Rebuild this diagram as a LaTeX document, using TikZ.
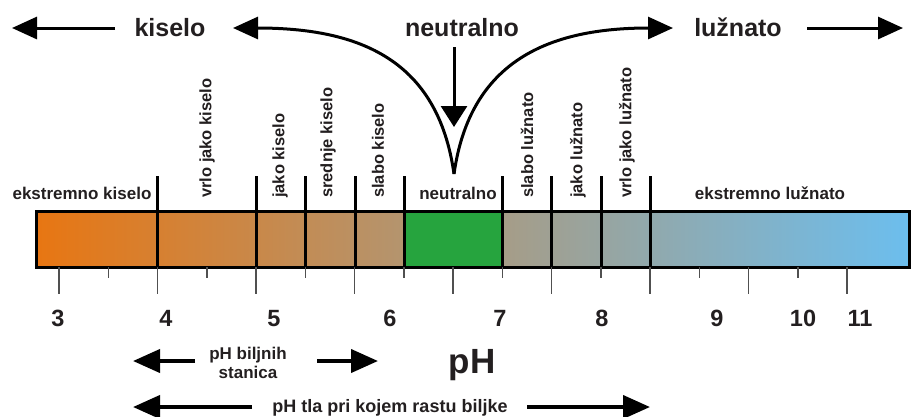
\documentclass[tikz,border=0pt]{standalone}
\usepackage{fontspec}
\setmainfont{Liberation Sans}
\usetikzlibrary{arrows.meta}
\definecolor{ink}{RGB}{35,31,32}
\definecolor{acid}{RGB}{232,118,18}
\definecolor{alk}{RGB}{108,190,238}
\definecolor{neut}{RGB}{38,164,62}
\definecolor{tickc}{RGB}{80,80,80}
\begin{document}
\begin{tikzpicture}[x=1pt,y=-1pt,
  big/.style={font=\fontsize{25}{30}\selectfont\bfseries, text=ink, inner sep=0pt, anchor=base},
  lab/.style={font=\fontsize{17}{20}\selectfont\bfseries, text=ink, inner sep=0pt, anchor=base},
  vlab/.style={font=\fontsize{16.5}{19}\selectfont\bfseries, text=ink, inner sep=0pt, rotate=90, anchor=west},
  num/.style={font=\fontsize{23.5}{27}\selectfont\bfseries, text=ink, inner sep=0pt, anchor=base},
  small/.style={font=\fontsize{17}{19.5}\selectfont\bfseries, text=ink, inner sep=0pt, align=center},
  toparrow/.style={line width=3pt, -{Triangle[length=25pt,width=22pt]}},
  curvearrow/.style={line width=3pt, -{Triangle[length=25pt,width=22pt]}},
  downarrow/.style={line width=3pt, -{Triangle[length=21pt,width=26pt]}},
  botarrow/.style={line width=4pt, -{Triangle[length=27pt,width=23pt]}},
  divider/.style={line width=3pt},
  majortick/.style={line width=1.5pt, draw=tickc},
]
\useasboundingbox (0,0) rectangle (912,416);

% top labels
\node[big] (kiselo) at (170,36) {kiselo};
\node[big] (neutralno) at (462,36) {neutralno};
\node[big] (luznato) at (738,36) {lužnato};

% top arrows
\coordinate (kA) at (115,28);
\coordinate (kB) at (12,28);
\draw[toparrow] (kA) -- (kB);
\coordinate (lA) at (807,28);
\coordinate (lB) at (903,28);
\draw[toparrow] (lA) -- (lB);

\coordinate (V) at (454,174);
\coordinate (cL) at (233,28);
\coordinate (cR) at (673,28);
\draw[curvearrow] (V) .. controls (438,60) and (360,28) .. (cL);
\draw[curvearrow] (V) .. controls (470,60) and (550,28) .. (cR);
\coordinate (dA) at (454,47);
\coordinate (dB) at (454,127);
\draw[downarrow] (dA) -- (dB);

% bar
\shade[left color=acid, right color=alk] (36,211) rectangle (909,267);
\fill[neut] (404,211) rectangle (502,267);
\draw[line width=3pt] (36,211) rectangle (909,267);
\foreach \x in {157,256,305,355,404,502,551,601,650}
  \draw[divider] (\x,176) -- (\x,267);

% ticks
\foreach \i in {0,...,16}{
  \pgfmathsetmacro{\tx}{59+49.25*\i}
  \ifodd\i
    \draw[majortick] (\tx,267) -- (\tx,278);
  \else
    \draw[majortick] (\tx,267) -- (\tx,294);
  \fi
}

% labels above bar
\node[lab] (ek) at (82,199) {ekstremno kiselo};
\node[lab] (nt) at (458,199) {neutralno};
\node[lab] (el) at (770,199) {ekstremno lužnato};
\node[vlab] (v1) at (207,198) {vrlo jako kiselo};
\node[vlab] (v2) at (280,198) {jako kiselo};
\node[vlab] (v3) at (328,198) {srednje kiselo};
\node[vlab] (v4) at (378,198) {slabo kiselo};
\node[vlab] (v5) at (527,198) {slabo lužnato};
\node[vlab] (v6) at (578,198) {jako lužnato};
\node[vlab] (v7) at (627,198) {vrlo jako lužnato};

% numbers
\node[num] (n3) at (58,326) {3};
\node[num] (n4) at (166,326) {4};
\node[num] (n5) at (274,326) {5};
\node[num] (n6) at (390,326) {6};
\node[num] (n7) at (500,326) {7};
\node[num] (n8) at (602,326) {8};
\node[num] (n9) at (717,326) {9};
\node[num] (n10) at (803,326) {10};
\node[num] (n11) at (860,326) {11};

% bottom
\node[small] (bilj) at (248,363) {pH biljnih\\stanica};
\node[font=\fontsize{35}{40}\selectfont\bfseries, text=ink, inner sep=0pt, anchor=base] (ph) at (472,373) {pH};
\coordinate (b1a) at (195,361);
\coordinate (b1b) at (133,361);
\coordinate (b2a) at (317,361);
\coordinate (b2b) at (378,361);
\draw[botarrow] (b1a) -- (b1b);
\draw[botarrow] (b2a) -- (b2b);

\node[lab, font=\fontsize{18}{20}\selectfont\bfseries] (tla) at (390,412) {pH tla pri kojem rastu biljke};
\coordinate (t1a) at (252,407);
\coordinate (t1b) at (133,407);
\coordinate (t2a) at (527,407);
\coordinate (t2b) at (650,407);
\draw[botarrow] (t1a) -- (t1b);
\draw[botarrow] (t2a) -- (t2b);
\end{tikzpicture}
\end{document}
